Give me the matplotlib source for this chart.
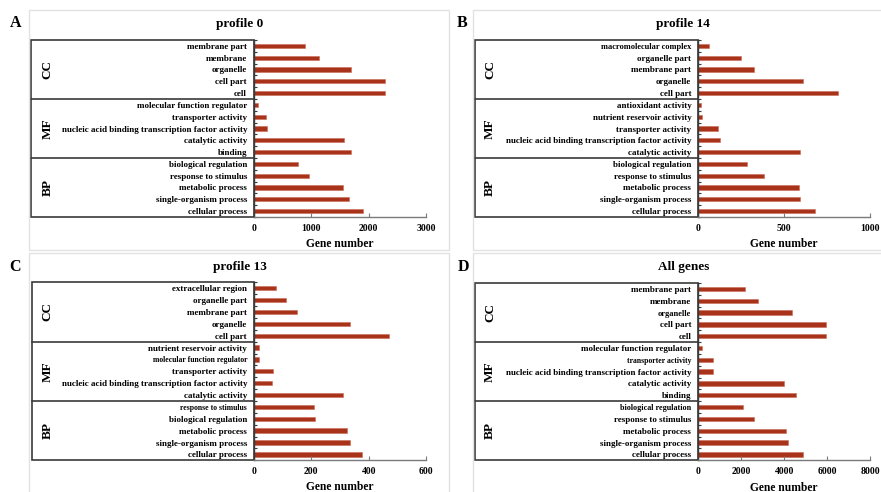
import numpy as np
import matplotlib
matplotlib.use("Agg")
import matplotlib.pyplot as plt
from matplotlib.patches import Rectangle

plt.rcParams['font.family'] = ['Liberation Serif', 'DejaVu Serif']
plt.rcParams['font.weight'] = 'bold'

# ---------------- data (top-to-bottom order) ----------------
groups = ['CC', 'MF', 'BP']
group_sizes = [5, 5, 5]

a_terms = ['membrane part', 'membrane', 'organelle', 'cell part', 'cell',
           'molecular function regulator', 'transporter activity',
           'nucleic acid binding transcription factor activity',
           'catalytic activity', 'binding',
           'biological regulation', 'response to stimulus', 'metabolic process',
           'single-organism process', 'cellular process']
a_values = [890, 1140, 1700, 2285, 2290, 70, 215, 227, 1568, 1696,
            764, 961, 1550, 1649, 1906]

b_terms = ['macromolecular complex', 'organelle part', 'membrane part', 'organelle', 'cell part',
           'antioxidant activity', 'nutrient reservoir activity', 'transporter activity',
           'nucleic acid binding transcription factor activity', 'catalytic activity',
           'biological regulation', 'response to stimulus', 'metabolic process',
           'single-organism process', 'cellular process']
b_values = [64, 249, 322, 612, 816, 16, 21, 115, 124, 592,
            285, 383, 584, 590, 678]

c_terms = ['extracellular region', 'organelle part', 'membrane part', 'organelle', 'cell part',
           'nutrient reservoir activity', 'molecular function regulator', 'transporter activity',
           'nucleic acid binding transcription factor activity', 'catalytic activity',
           'response to stimulus', 'biological regulation', 'metabolic process',
           'single-organism process', 'cellular process']
c_values = [77, 113, 149, 334, 470, 17, 16, 65, 63, 310,
            210, 212, 324, 336, 376]

d_terms = ['membrane part', 'membrane', 'organelle', 'cell part', 'cell',
           'molecular function regulator', 'transporter activity',
           'nucleic acid binding transcription factor activity',
           'catalytic activity', 'binding',
           'biological regulation', 'response to stimulus', 'metabolic process',
           'single-organism process', 'cellular process']
d_values = [2158, 2764, 4363, 5932, 5947, 171, 683, 699, 4006, 4550,
            2081, 2578, 4068, 4193, 4891]

titles = ['profile 0', 'profile 14', 'profile 13', 'All genes']
letters = ['A', 'B', 'C', 'D']
x_max = [3000, 1000, 600, 8000]
x_step = [1000, 500, 200, 2000]

# ---------------- layout (pixels) ----------------
W, H = 881, 492
bar_color = '#A8321A'
box_color = '#3a3a3a'

layout = [
    dict(ax=(254, 40, 426, 217), box_left=31, glabel_x=47.5, frame=(29, 10, 449, 250),
         letter=(16, 23), title=(239.5, 24), xlabel_y=244),
    dict(ax=(698.3, 40, 870, 217), box_left=475.3, glabel_x=490, frame=(473, 10, 885, 250),
         letter=(462, 23), title=(682.7, 23.5), xlabel_y=244),
    dict(ax=(254, 282.3, 426, 460.3), box_left=31.7, glabel_x=47.5, frame=(29, 253, 449, 496),
         letter=(15, 267), title=(239.7, 266.7), xlabel_y=486.7),
    dict(ax=(698.3, 283, 870, 460.3), box_left=475.3, glabel_x=490, frame=(473, 253, 885, 496),
         letter=(463, 267), title=(683.3, 267.3), xlabel_y=487.7),
]

small_labels = {(2, 'molecular function regulator'): 5.6,
                (2, 'response to stimulus'): 5.6,
                (3, 'transporter activity'): 5.6,
                (3, 'biological regulation'): 5.9,
                (3, 'organelle'): 6.0,
                (1, 'macromolecular complex'): 6.0}

all_terms = [a_terms, b_terms, c_terms, d_terms]
all_values = [a_values, b_values, c_values, d_values]

fig = plt.figure(figsize=(W / 100, H / 100), dpi=100)


def fx(px):
    return px / W


def fy(py):
    return 1 - py / H


for i in range(4):
    L = layout[i]
    terms = all_terms[i]
    vals = all_values[i]
    n = len(terms)

    # light panel frame
    x0, y0, x1, y1 = L['frame']
    fig.add_artist(Rectangle((fx(x0), fy(y1)), (x1 - x0) / W, (y1 - y0) / H,
                             transform=fig.transFigure, fill=False,
                             edgecolor='#e2e2e2', lw=1.0))

    l, t, r, b = L['ax']
    ax = fig.add_axes([fx(l), fy(b), (r - l) / W, (b - t) / H])
    y = np.arange(n)
    ax.barh(y, vals, height=0.37, color=bar_color, edgecolor='#c96a55', linewidth=0.4)
    ax.set_xlim(0, x_max[i])
    ax.set_ylim(n - 0.5, -0.5)
    ax.set_facecolor('none')

    for s in ['top', 'right']:
        ax.spines[s].set_visible(False)
    ax.spines['left'].set_color(box_color)
    ax.spines['left'].set_linewidth(1.0)
    ax.spines['bottom'].set_color('#7a7a7a')
    ax.spines['bottom'].set_linewidth(1.0)

    ax.set_xticks(np.arange(0, x_max[i] + 1, x_step[i]))
    ax.tick_params(axis='x', direction='in', length=3, color='#7a7a7a',
                   labelsize=7, pad=5)
    ax.set_yticks(y)
    ax.set_yticklabels(terms)
    ax.set_yticks(np.arange(-0.5, n, 1.0), minor=True)
    ax.tick_params(axis='y', which='major', length=0, labelsize=6.5, pad=5)
    ax.tick_params(axis='y', which='minor', direction='in', length=2.5,
                   color=box_color, width=0.8)
    for lab in ax.get_yticklabels():
        key = (i, lab.get_text())
        if key in small_labels:
            lab.set_fontsize(small_labels[key])
    for lab in ax.get_xticklabels() + ax.get_yticklabels():
        lab.set_fontweight('bold')

    # category box with group dividers
    tr = ax.get_yaxis_transform()
    bl = (L['box_left'] - l) / (r - l)
    ax.add_patch(Rectangle((bl, -0.5), -bl, n, transform=tr, fill=False,
                           edgecolor=box_color, lw=1.2, clip_on=False))
    start = 0
    gx = (L['glabel_x'] - l) / (r - l)
    for g, size in zip(groups, group_sizes):
        end = start + size
        if end < n:
            ax.plot([bl, 0], [end - 0.5, end - 0.5], transform=tr,
                    color=box_color, lw=1.2, clip_on=False)
        ax.text(gx, (start + end - 1) / 2, g, transform=tr, rotation=90,
                ha='center', va='center', fontsize=9.5, fontweight='bold')
        start = end

    # texts
    fig.text(fx(L['title'][0]), fy(L['title'][1]), titles[i], ha='center',
             va='center', fontsize=9.5, fontweight='bold')
    fig.text(fx((l + r) / 2), fy(L['xlabel_y']), 'Gene number', ha='center',
             va='center', fontsize=8.3, fontweight='bold')
    fig.text(fx(L['letter'][0]), fy(L['letter'][1]), letters[i], ha='center',
             va='center', fontsize=11.5, fontweight='bold')

fig.savefig('out.png', dpi=100)
